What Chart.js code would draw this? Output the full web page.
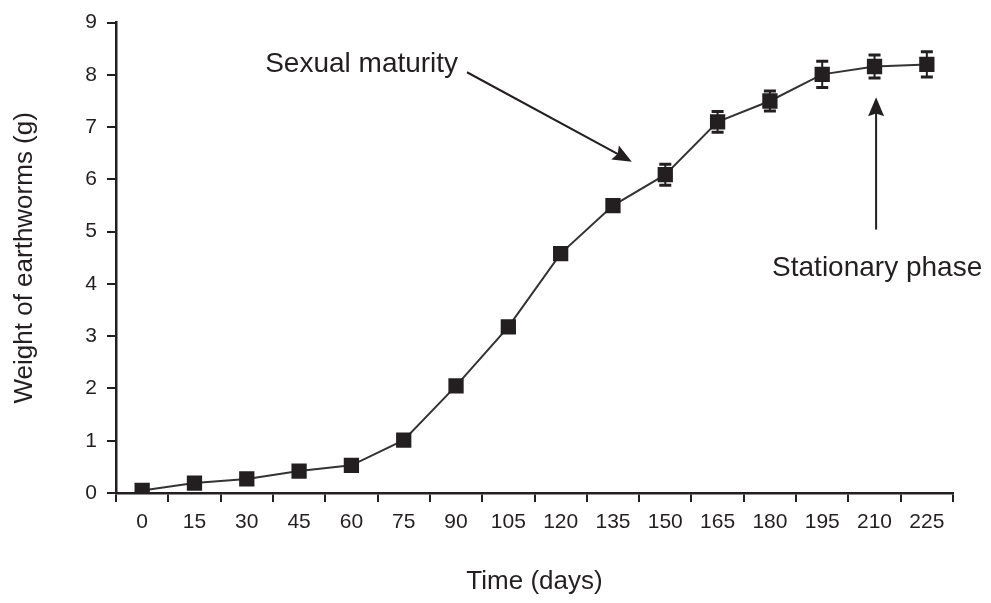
<!DOCTYPE html>
<html>
<head>
<meta charset="utf-8">
<script src="https://cdn.jsdelivr.net/npm/chart.js@4/dist/chart.umd.min.js"></script>
<style>
html,body{margin:0;padding:0;background:#fff;}
#wrap{width:991px;height:603px;position:relative;}
</style>
</head>
<body>
<div id="wrap"><canvas id="c" width="991" height="603"></canvas></div>
<script>
const days = ['0','15','30','45','60','75','90','105','120','135','150','165','180','195','210','225'];
const weight = [0.05,0.19,0.27,0.42,0.53,1.01,2.05,3.18,4.58,5.50,6.09,7.10,7.50,8.01,8.16,8.20];
const weightErr = [0.03,0.04,0.04,0.05,0.05,0.07,0.08,0.1,0.1,0.1,0.2,0.2,0.19,0.25,0.22,0.24];
const yTicks = [0,1,2,3,4,5,6,7,8,9];
const annotations = [
  {text:'Sexual maturity', tx:6.04, ty:8.2, align:'right', from:[6.21,8.05], to:[9.36,6.34]},
  {text:'Stationary phase', tx:14.05, ty:4.30, align:'center', from:[14.03,5.04], to:[14.03,7.57]}
];

const ink = '#231f20';

const errorBars = {
  id:'errorBars',
  beforeDatasetsDraw(chart){
    const ctx = chart.ctx, xs = chart.scales.x, ys = chart.scales.y;
    ctx.save();
    ctx.strokeStyle = ink; ctx.lineWidth = 2;
    weight.forEach((v,i)=>{
      const e = weightErr[i];
      const x = xs.getPixelForValue(i);
      const yt = ys.getPixelForValue(v+e), yb = ys.getPixelForValue(v-e);
      ctx.beginPath();
      ctx.moveTo(x,yt); ctx.lineTo(x,yb);
      ctx.stroke();
      ctx.lineWidth = 3;
      ctx.beginPath();
      ctx.moveTo(x-6,yt); ctx.lineTo(x+6,yt);
      ctx.moveTo(x-6,yb); ctx.lineTo(x+6,yb);
      ctx.stroke();
      ctx.lineWidth = 2;
    });
    ctx.restore();
  }
};

const arrows = {
  id:'arrows',
  afterDraw(chart){
    const ctx = chart.ctx, xs = chart.scales.x, ys = chart.scales.y;
    ctx.save();
    ctx.fillStyle = ink; ctx.strokeStyle = ink; ctx.lineWidth = 2;
    ctx.font = '28px "Liberation Sans", Arial, sans-serif';
    ctx.textBaseline = 'middle';
    annotations.forEach(a=>{
      ctx.textAlign = a.align;
      ctx.fillText(a.text, xs.getPixelForValue(a.tx), ys.getPixelForValue(a.ty));
      const x1 = xs.getPixelForValue(a.from[0]), y1 = ys.getPixelForValue(a.from[1]);
      const x2 = xs.getPixelForValue(a.to[0]), y2 = ys.getPixelForValue(a.to[1]);
      const ang = Math.atan2(y2-y1, x2-x1);
      const hl = 19, hw = 8;
      const bx = x2 - hl*Math.cos(ang), by = y2 - hl*Math.sin(ang);
      ctx.beginPath(); ctx.moveTo(x1,y1); ctx.lineTo(x2 - hl*0.8*Math.cos(ang), y2 - hl*0.8*Math.sin(ang)); ctx.stroke();
      ctx.beginPath();
      ctx.moveTo(x2,y2);
      ctx.lineTo(bx + hw*Math.sin(ang), by - hw*Math.cos(ang));
      ctx.lineTo(x2 - hl*0.85*Math.cos(ang), y2 - hl*0.85*Math.sin(ang));
      ctx.lineTo(bx - hw*Math.sin(ang), by + hw*Math.cos(ang));
      ctx.closePath(); ctx.fill();
    });
    ctx.restore();
  }
};

new Chart(document.getElementById('c'), {
  type:'line',
  data:{
    labels: days,
    datasets:[{
      data: weight,
      borderColor:'#333',
      borderWidth:2,
      backgroundColor: ink,
      pointStyle:'rect',
      pointRadius:10.8,
      pointHoverRadius:10.8,
      pointBackgroundColor: ink,
      pointBorderColor: ink,
      pointBorderWidth:0,
      tension:0
    }]
  },
  options:{
    responsive:false,
    animation:false,
    events:[],
    layout:{padding:{top:20,right:38,left:0,bottom:0}},
    plugins:{legend:{display:false},tooltip:{enabled:false}},
    scales:{
      x:{
        type:'category',
        offset:true,
        grid:{offset:true,drawOnChartArea:false,tickLength:9,color:ink,lineWidth:2},
        border:{color:ink,width:2.5},
        ticks:{color:ink,font:{size:21,family:'"Liberation Sans", Arial, sans-serif'},padding:8,maxRotation:0,autoSkip:false},
        title:{display:true,text:'Time (days)',color:ink,font:{size:26,family:'"Liberation Sans", Arial, sans-serif'},padding:{top:0,bottom:6}},
        afterFit(s){ s.height = 110; }
      },
      y:{
        min:0,max:9,
        afterBuildTicks(s){ s.ticks = yTicks.map(v=>({value:v})); },
        grid:{drawOnChartArea:false,tickLength:9,color:ink,lineWidth:2},
        border:{color:ink,width:2.5},
        ticks:{color:ink,font:{size:21,family:'"Liberation Sans", Arial, sans-serif'},padding:10},
        title:{display:true,text:'Weight of earthworms (g)',color:ink,font:{size:26,family:'"Liberation Sans", Arial, sans-serif'},padding:{top:9,bottom:0}},
        afterFit(s){ s.width = 116; }
      }
    }
  },
  plugins:[errorBars, arrows]
});
</script>
</body>
</html>
